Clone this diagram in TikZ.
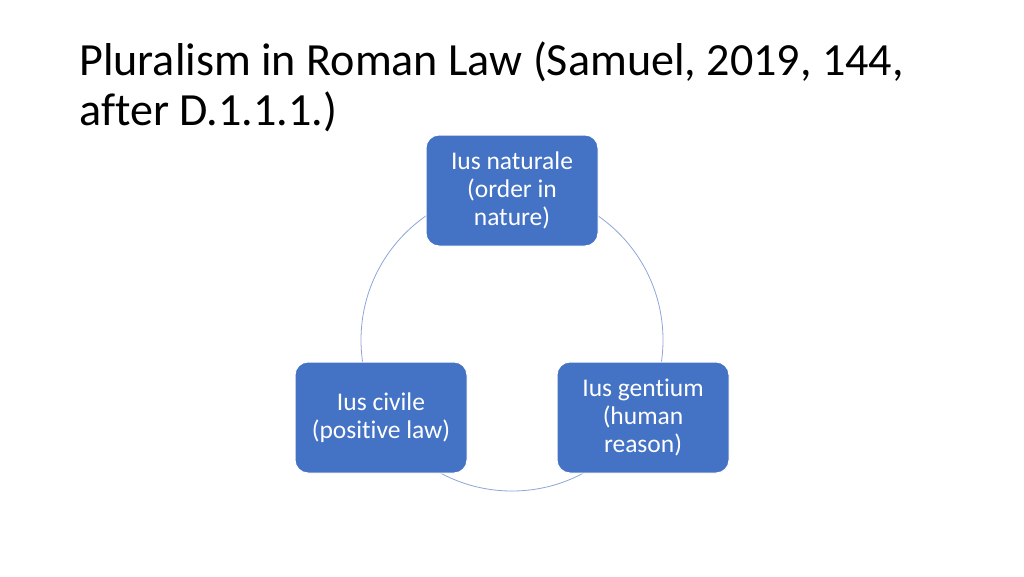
\documentclass[tikz,border=0pt]{standalone}
\usepackage{fontspec}
\setmainfont{Carlito}[Ligatures=NoCommon]
\definecolor{boxblue}{HTML}{4472C4}
\definecolor{ringblue}{HTML}{8FA5D8}
\begin{document}
\begin{tikzpicture}[x=1pt,y=-1pt,
  lawbox/.style={draw=white, line width=1pt, fill=boxblue, rounded corners=13pt,
    minimum width=172pt, minimum height=111pt, align=center, text=white,
    font=\fontsize{25.5}{28}\selectfont, inner sep=0pt},
  ring/.style={draw=ringblue, line width=0.8pt}]
\useasboundingbox (0,0) rectangle (1024,576);
\fill[white] (0,0) rectangle (1024,576);
\node[anchor=base west, align=left, inner sep=0pt, font=\fontsize{46.1}{50}\selectfont] (title) at (79,125)
  {Pluralism in Roman Law (Samuel, 2019, 144,\\after D.1.1.1.)};
\coordinate (c) at (512,340);
\draw[ring] (c) circle[radius=151];
\node[lawbox] (nat) at (512,190.5) {Ius naturale\\(order in\\nature)};
\node[lawbox] (civ) at (381,417.5) {Ius civile\\(positive law)};
\node[lawbox] (gen) at (643,417.5) {Ius gentium\\(human\\reason)};
\end{tikzpicture}
\end{document}
